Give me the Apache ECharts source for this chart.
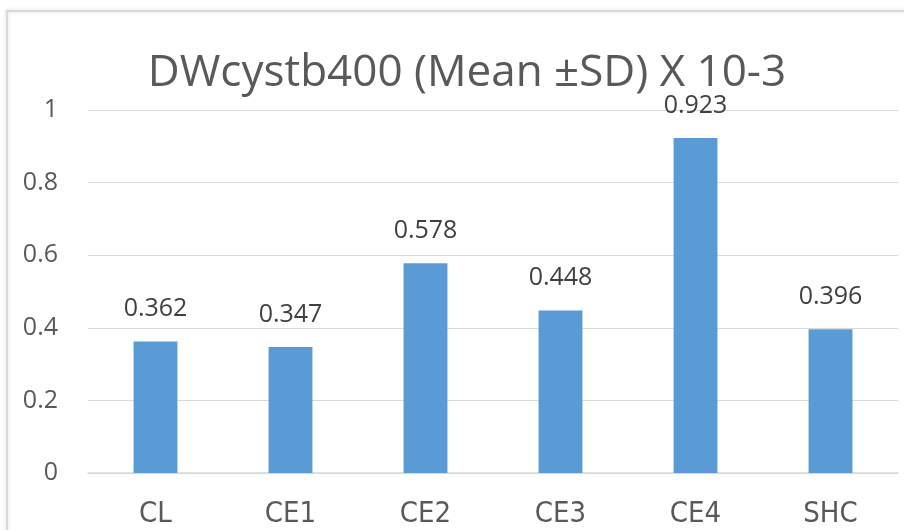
<!DOCTYPE html>
<html>
<head>
<meta charset="utf-8">
<script src="https://cdn.jsdelivr.net/npm/echarts@6/dist/echarts.min.js"></script>
<style>
  html, body { margin: 0; padding: 0; background: #fff; }
  #chart { width: 904px; height: 530px; }
</style>
</head>
<body>
<div id="chart"></div>
<script>
// Groups and mean values (x 10^-3)
const categories = ['CL', 'CE1', 'CE2', 'CE3', 'CE4', 'SHC'];
const meanValues = [0.362, 0.347, 0.578, 0.448, 0.923, 0.396];
const titleText = 'DWcystb400 (Mean \u00B1SD) X 10-3';

const narrowFont = '"Liberation Sans Narrow", "DejaVu Sans Condensed", sans-serif';
const numberFont = '"Open Sans", "Liberation Sans", sans-serif';

const chart = echarts.init(document.getElementById('chart'));
chart.setOption({
  animation: false,
  backgroundColor: '#fff',
  graphic: [{
    type: 'rect',
    shape: { x: 7, y: 11, width: 920, height: 540 },
    style: { fill: 'none', stroke: '#d9d9d9', lineWidth: 2, shadowBlur: 4, shadowColor: 'rgba(0,0,0,0.15)' },
    silent: true,
    z: -1
  }],
  title: {
    text: titleText,
    left: 462,
    textAlign: 'center',
    top: 46,
    textStyle: { fontFamily: numberFont, fontSize: 44, fontWeight: 'normal', color: '#595959' }
  },
  grid: { left: 88, right: 6, top: 110, bottom: 57 },
  xAxis: {
    type: 'category',
    data: categories,
    axisTick: { show: false },
    axisLine: { lineStyle: { color: '#d9d9d9', width: 1.5 } },
    axisLabel: { fontFamily: narrowFont, fontSize: 29, color: '#595959', margin: 27 }
  },
  yAxis: {
    type: 'value',
    min: 0,
    max: 1,
    interval: 0.2,
    axisLine: { show: false },
    axisTick: { show: false },
    splitLine: { lineStyle: { color: '#d9d9d9', width: 1.2 } },
    axisLabel: { fontFamily: numberFont, fontSize: 25, color: '#595959', margin: 30 }
  },
  series: [{
    type: 'bar',
    data: meanValues,
    barWidth: '32.5%',
    itemStyle: { color: '#5B9BD5' },
    label: {
      show: true,
      position: 'top',
      distance: 20,
      fontFamily: numberFont,
      fontSize: 25,
      color: '#404040',
      formatter: p => p.value.toFixed(3)
    }
  }]
});
</script>
</body>
</html>
